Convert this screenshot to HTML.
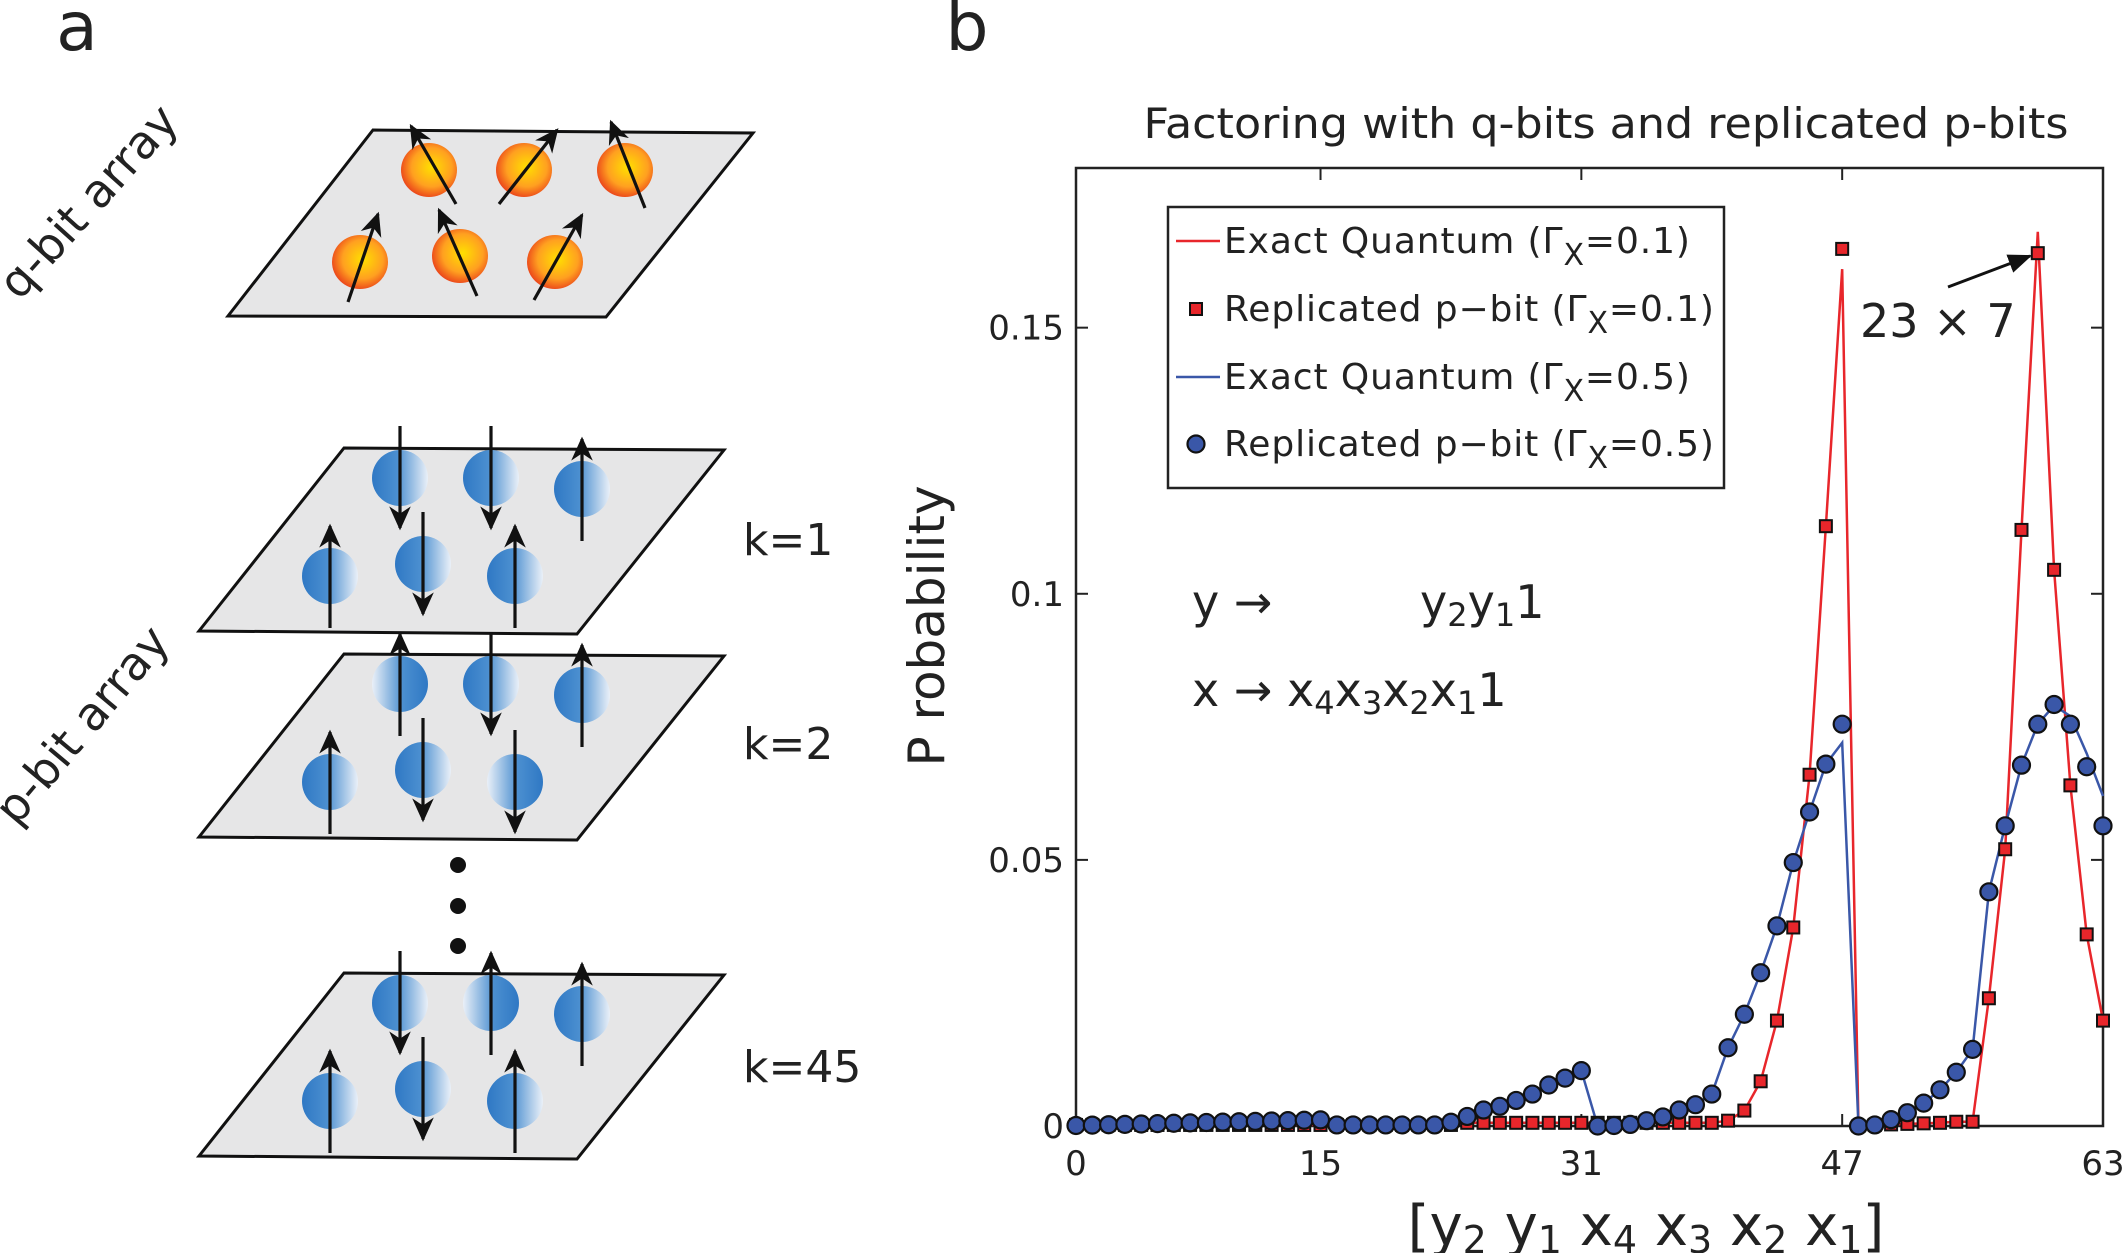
<!DOCTYPE html>
<html><head><meta charset="utf-8"><style>
html,body{margin:0;padding:0;background:#fff}
svg{display:block}
text{font-family:"DejaVu Sans","Liberation Sans",sans-serif;fill:#222}
</style></head><body>
<svg id="s" width="2125" height="1253" viewBox="0 0 2125 1253" xmlns="http://www.w3.org/2000/svg">
<defs>
<radialGradient id="og" cx="0.55" cy="0.45" r="0.6">
<stop offset="0" stop-color="#ffe000"/><stop offset="0.6" stop-color="#ffa020"/><stop offset="1" stop-color="#e83a1a"/></radialGradient>
<linearGradient id="bg1" x1="0" x2="1" y1="0" y2="0">
<stop offset="0" stop-color="#2f78c4"/><stop offset="0.45" stop-color="#4b8fd0"/><stop offset="1" stop-color="#eaf0f8"/></linearGradient>
<linearGradient id="bg2" x1="1" x2="0" y1="0" y2="0">
<stop offset="0" stop-color="#2f78c4"/><stop offset="0.45" stop-color="#4b8fd0"/><stop offset="1" stop-color="#eaf0f8"/></linearGradient>
<marker id="ah" viewBox="0 0 10 10" refX="9" refY="5" markerWidth="7.5" markerHeight="7.5" orient="auto-start-reverse" markerUnits="strokeWidth">
<path d="M0,0.5 L10,5 L0,9.5 L3,5 z" fill="#111"/></marker>
<marker id="ah2" viewBox="0 0 10 10" refX="9" refY="5" markerWidth="8" markerHeight="8" orient="auto" markerUnits="strokeWidth">
<path d="M0,1 L10,5 L0,9 z" fill="#111"/></marker>
</defs>
<g id="left"></g>
<g id="right"></g>
</svg>
<script>
const NS="http://www.w3.org/2000/svg";
function el(p,t,a,txt){const e=document.createElementNS(NS,t);for(const k in a)e.setAttribute(k,a[k]);if(txt!==undefined)e.textContent=txt;p.appendChild(e);return e;}
const L=document.getElementById('left'), R=document.getElementById('right');
el(L,'text',{x:77,y:50,'font-size':68,'text-anchor':'middle'},'a');
el(R,'text',{x:967,y:50,'font-size':68,'text-anchor':'middle'},'b');
el(L,'text',{x:0,y:0,'font-size':46,'text-anchor':'middle',transform:'translate(100,212) rotate(-48)'},'q-bit array');
el(L,'text',{x:0,y:0,'font-size':46,'text-anchor':'middle',transform:'translate(94,735) rotate(-50)'},'p-bit array');
function plane(pts){el(L,'polygon',{points:pts.map(p=>p.join(',')).join(' '),fill:'#e6e6e7',stroke:'#111','stroke-width':3});}
plane([[228,316],[373,130],[753,133],[606,317]]);
[[429,170],[524,170],[625,170],[360,262],[460,256],[555,262]].forEach(c=>el(L,'ellipse',{cx:c[0],cy:c[1],rx:28,ry:27,fill:'url(#og)'}));
[[456,204,411,126],[499,204,557,130],[645,208,611,122],[348,302,378,214],[477,296,439,210],[534,300,582,215]].forEach(a=>
 el(L,'line',{x1:a[0],y1:a[1],x2:a[2],y2:a[3],stroke:'#111','stroke-width':3.2,'marker-end':'url(#ah)'}));
const base=[[199,631],[344,448],[724,450],[577,634]];
const sph=[[400,478],[491,478],[582,489],[330,576],[423,564],[515,576]];
const layers=[{dy:0,dirs:[1,1,0,0,1,0],g:[1,1,1,1,1,1]},{dy:206,dirs:[0,1,0,0,1,1],g:[2,1,1,1,1,2]},{dy:525,dirs:[1,0,0,0,1,0],g:[1,2,1,1,1,1]}];
layers.forEach((ly)=>{
 plane(base.map(p=>[p[0],p[1]+ly.dy]));
 sph.forEach((c,i)=>{
  const cx=c[0],cy=c[1]+ly.dy;
  el(L,'ellipse',{cx:cx,cy:cy,rx:28,ry:28,fill:ly.g[i]==1?'url(#bg1)':'url(#bg2)'});
  if(ly.dirs[i]) el(L,'line',{x1:cx,y1:cy-52,x2:cx,y2:cy+50,stroke:'#111','stroke-width':3.2,'marker-end':'url(#ah)'});
  else el(L,'line',{x1:cx,y1:cy+52,x2:cx,y2:cy-50,stroke:'#111','stroke-width':3.2,'marker-end':'url(#ah)'});
 });
});
[865,906,946].forEach(y=>el(L,'circle',{cx:458,cy:y,r:8,fill:'#111'}));
el(L,'text',{x:743,y:555,'font-size':44},'k=1');
el(L,'text',{x:743,y:759,'font-size':44},'k=2');
el(L,'text',{x:743,y:1082,'font-size':44},'k=45');
const X0=1076,X1=2103,Y0=1126,YT=168,YM=0.18;
const xs=i=>X0+i*(X1-X0)/63, ys=v=>Y0-v/YM*(Y0-YT);
el(R,'text',{x:1606,y:138,'font-size':42,'text-anchor':'middle',textLength:925,lengthAdjust:'spacingAndGlyphs'},'Factoring with q-bits and replicated p-bits');
el(R,'rect',{x:X0,y:YT,width:X1-X0,height:Y0-YT,fill:'none',stroke:'#222','stroke-width':2.5});
[0,0.05,0.1,0.15].forEach((v,k)=>{const y=ys(v);
 el(R,'line',{x1:X0,y1:y,x2:X0+12,y2:y,stroke:'#222','stroke-width':2});
 el(R,'line',{x1:X1,y1:y,x2:X1-12,y2:y,stroke:'#222','stroke-width':2});
 el(R,'text',{x:1064,y:y+12,'font-size':34,'text-anchor':'end'},['0','0.05','0.1','0.15'][k]);});
[0,15,31,47,63].forEach(i=>{const x=xs(i);
 el(R,'line',{x1:x,y1:Y0,x2:x,y2:Y0-12,stroke:'#222','stroke-width':2});
 el(R,'line',{x1:x,y1:YT,x2:x,y2:YT+12,stroke:'#222','stroke-width':2});
 el(R,'text',{x:x,y:1175,'font-size':34,'text-anchor':'middle'},String(i));});
el(R,'text',{x:0,y:0,'font-size':50,'text-anchor':'middle',transform:'translate(944,626) rotate(-90)'},'P robability');
const xl=el(R,'text',{x:1646,y:1245,'font-size':56,'text-anchor':'middle'});
xl.innerHTML='[y<tspan font-size="38" dy="8">2</tspan><tspan dy="-8"> y</tspan><tspan font-size="38" dy="8">1</tspan><tspan dy="-8"> x</tspan><tspan font-size="38" dy="8">4</tspan><tspan dy="-8"> x</tspan><tspan font-size="38" dy="8">3</tspan><tspan dy="-8"> x</tspan><tspan font-size="38" dy="8">2</tspan><tspan dy="-8"> x</tspan><tspan font-size="38" dy="8">1</tspan><tspan dy="-8">]</tspan>';
const red=new Array(64).fill(0), blue=new Array(64).fill(0);
for(let i=0;i<64;i++){red[i]=0.0002;}
for(let i=24;i<40;i++)red[i]=0.0006;
Object.assign(red,{40:0.001,41:0.0029,42:0.0084,43:0.0198,44:0.0373,45:0.066,46:0.1127,47:0.1648,48:0,49:0.0002,50:0.0003,51:0.0004,52:0.0005,53:0.0006,54:0.0008,55:0.0008,56:0.024,57:0.052,58:0.112,59:0.164,60:0.1045,61:0.064,62:0.036,63:0.0198});
for(let i=0;i<16;i++)blue[i]=0.0001+i*0.00007;
for(let i=16;i<24;i++)blue[i]=0.0002;
Object.assign(blue,{23:0.0007,24:0.0018,25:0.003,26:0.0037,27:0.0048,28:0.006,29:0.0077,30:0.009,31:0.0104,32:0,33:0.0001,34:0.0003,35:0.001,36:0.0017,37:0.003,38:0.004,39:0.006,40:0.0147,41:0.021,42:0.0288,43:0.0376,44:0.0495,45:0.059,46:0.068,47:0.0755,48:0,49:0.0002,50:0.0012,51:0.0025,52:0.0043,53:0.0068,54:0.0101,55:0.0144,56:0.044,57:0.0564,58:0.0678,59:0.0755,60:0.0792,61:0.0755,62:0.0675,63:0.0564});
const redL=red.slice(); redL[47]=0.161; redL[59]=0.168;
const blueL=blue.slice(); blueL[47]=0.072; blueL[60]=0.079; blueL[63]=0.062; blueL[61]=0.077;blueL[62]=0.070;
el(R,'polyline',{points:redL.map((v,i)=>xs(i)+','+ys(v)).join(' '),fill:'none',stroke:'#e8262b','stroke-width':2.5});
el(R,'polyline',{points:blueL.map((v,i)=>xs(i)+','+ys(v)).join(' '),fill:'none',stroke:'#3a57a8','stroke-width':2.5});
red.forEach((v,i)=>el(R,'rect',{x:xs(i)-6,y:ys(v)-6,width:12,height:12,fill:'#e8262b',stroke:'#111','stroke-width':2}));
blue.forEach((v,i)=>el(R,'circle',{cx:xs(i),cy:ys(v),r:8.5,fill:'#3a57a8',stroke:'#111','stroke-width':2.2}));
el(R,'rect',{x:1168,y:207,width:556,height:281,fill:'#fff',stroke:'#222','stroke-width':2.5});
const rows=[241,309,377,444];
const labs=['Exact Quantum (','Replicated p\u2212bit (','Exact Quantum (','Replicated p\u2212bit ('];
const vals=['0.1','0.1','0.5','0.5'];
rows.forEach((y,k)=>{
 if(k==0)el(R,'line',{x1:1176,y1:y,x2:1220,y2:y,stroke:'#e8262b','stroke-width':2.5});
 if(k==2)el(R,'line',{x1:1176,y1:y,x2:1220,y2:y,stroke:'#3a57a8','stroke-width':2.5});
 if(k==1)el(R,'rect',{x:1190,y:y-6,width:12,height:12,fill:'#e8262b',stroke:'#111','stroke-width':2});
 if(k==3)el(R,'circle',{cx:1196,cy:y,r:8.5,fill:'#3a57a8',stroke:'#111','stroke-width':2.2});
 const t=el(R,'text',{x:1224,y:y+12,'font-size':36,'letter-spacing':0.9});
 t.innerHTML=labs[k]+'\u0393<tspan font-size="30" dy="12">X</tspan><tspan dy="-12">='+vals[k]+')</tspan>';
});
const a1=el(R,'text',{x:1192,y:618,'font-size':46});
a1.innerHTML='y  \u2192 <tspan x="1420">y</tspan><tspan font-size="32" dy="8">2</tspan><tspan dy="-8">y</tspan><tspan font-size="32" dy="8">1</tspan><tspan dy="-8">1</tspan>';
const a2=el(R,'text',{x:1192,y:706,'font-size':46});
a2.innerHTML='x \u2192 x<tspan font-size="32" dy="8">4</tspan><tspan dy="-8">x</tspan><tspan font-size="32" dy="8">3</tspan><tspan dy="-8">x</tspan><tspan font-size="32" dy="8">2</tspan><tspan dy="-8">x</tspan><tspan font-size="32" dy="8">1</tspan><tspan dy="-8">1</tspan>';
el(R,'text',{x:1860,y:337,'font-size':46},'23 \u00d7 7');
el(R,'line',{x1:1948,y1:287,x2:2030,y2:256,stroke:'#111','stroke-width':3,'marker-end':'url(#ah2)'});
</script>
</body></html>
